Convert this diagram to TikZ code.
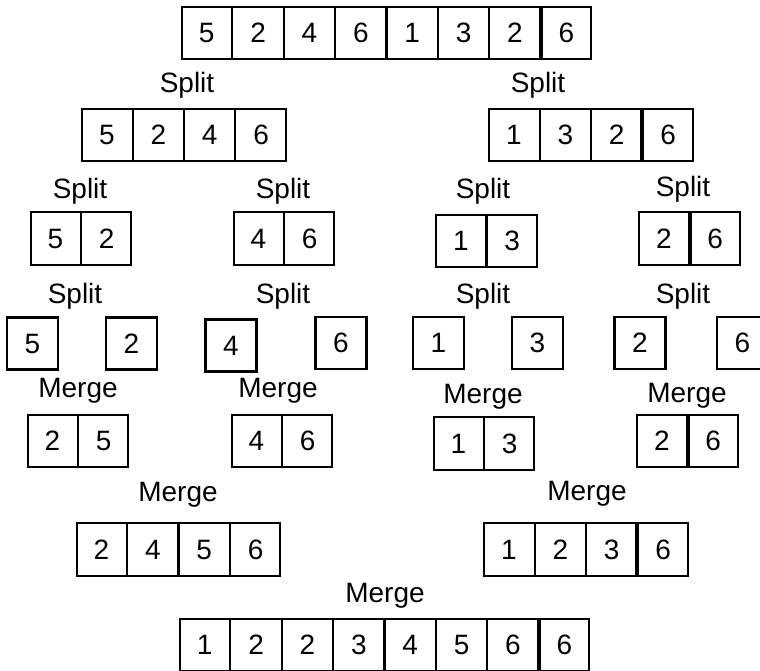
\documentclass[tikz,border=0pt]{standalone}
\usepackage{fontspec}
\setmainfont{Liberation Sans}
\usetikzlibrary{shapes.multipart}

\begin{document}
\begin{tikzpicture}[
    x=1pt,y=-1pt,
    every node/.style={font=\fontsize{28}{32}\selectfont},
    lbl/.style={inner sep=0pt},
    arr/.style={draw,line width=2.2pt,rectangle split,rectangle split horizontal,
                rectangle split part align=base,inner xsep=16.8pt,inner ysep=16.2pt},
    cell/.style={draw,line width=2.2pt,minimum width=51pt,minimum height=52pt,inner sep=0pt},
    heavy/.style={line width=4pt}
]
\clip (0,0) rectangle (760,670);
% top row
\node[arr,rectangle split parts=8] (a0) at (386.5,33)
  {5\nodepart{two}2\nodepart{three}4\nodepart{four}6\nodepart{five}1\nodepart{six}3\nodepart{seven}2\nodepart{eight}6};
\draw[heavy] (a0.seven split north) -- (a0.seven split south);

% first split
\node[lbl] (sL) at (187,85) {Split};
\node[lbl] (sR) at (538,85) {Split};
\node[arr,rectangle split parts=4] (aL) at (184,135)
  {5\nodepart{two}2\nodepart{three}4\nodepart{four}6};
\node[arr,rectangle split parts=4] (aR) at (591,135)
  {1\nodepart{two}3\nodepart{three}2\nodepart{four}6};
\draw[heavy] (aR.three split north) -- (aR.three split south);

% second split
\node[lbl] (sLL) at (80,191) {Split};
\node[lbl] (sLR) at (283,191) {Split};
\node[lbl] (sRL) at (483,191) {Split};
\node[lbl] (sRR) at (683,189) {Split};
\node[arr,rectangle split parts=2] (aLL) at (81,238.5) {5\nodepart{two}2};
\node[arr,rectangle split parts=2] (aLR) at (284,238.5) {4\nodepart{two}6};
\node[arr,rectangle split parts=2] (aRL) at (486.5,241) {1\nodepart{two}3};
\node[arr,rectangle split parts=2] (aRR) at (689.5,238.5) {2\nodepart{two}6};
\draw[heavy] (aRR.one split north) -- (aRR.one split south);

% third split
\node[lbl] (tLL) at (75,296) {Split};
\node[lbl] (tLR) at (283,296) {Split};
\node[lbl] (tRL) at (483,296) {Split};
\node[lbl] (tRR) at (683,296) {Split};
\node[cell] (c1) at (32.5,343.5) {5};
\node[cell] (c2) at (131.5,343.5) {2};
\node[cell] (c3) at (231,345.5) {4};
\node[cell] (c4) at (341,343) {6};
\node[cell] (c5) at (438.5,343) {1};
\node[cell] (c6) at (537.5,343) {3};
\node[cell] (c7) at (640,343) {2};
\node[cell] (c8) at (742.5,343) {6};

% first merge
\node[lbl] (mLL) at (78,391) {Merge};
\node[lbl] (mLR) at (278,391) {Merge};
\node[lbl] (mRL) at (483,397) {Merge};
\node[lbl] (mRR) at (687,396) {Merge};
\node[arr,rectangle split parts=2] (bLL) at (78,441) {2\nodepart{two}5};
\node[arr,rectangle split parts=2] (bLR) at (282,441) {4\nodepart{two}6};
\node[arr,rectangle split parts=2] (bRL) at (484,443.5) {1\nodepart{two}3};
\node[arr,rectangle split parts=2] (bRR) at (687.5,441) {2\nodepart{two}6};
\draw[heavy] (bRR.one split north) -- (bRR.one split south);

% second merge
\node[lbl] (mL) at (178,495) {Merge};
\node[lbl] (mR) at (587,494) {Merge};
\node[arr,rectangle split parts=4] (bL) at (178.5,549.5)
  {2\nodepart{two}4\nodepart{three}5\nodepart{four}6};
\node[arr,rectangle split parts=4] (bR) at (586,549.5)
  {1\nodepart{two}2\nodepart{three}3\nodepart{four}6};
\draw[heavy] (bR.three split north) -- (bR.three split south);

% last merge
\node[lbl] (m0) at (385,596) {Merge};
\node[arr,rectangle split parts=8] (res) at (384.5,645)
  {1\nodepart{two}2\nodepart{three}2\nodepart{four}3\nodepart{five}4\nodepart{six}5\nodepart{seven}6\nodepart{eight}6};
\draw[heavy] (res.seven split north) -- (res.seven split south);
\end{tikzpicture}
\end{document}
